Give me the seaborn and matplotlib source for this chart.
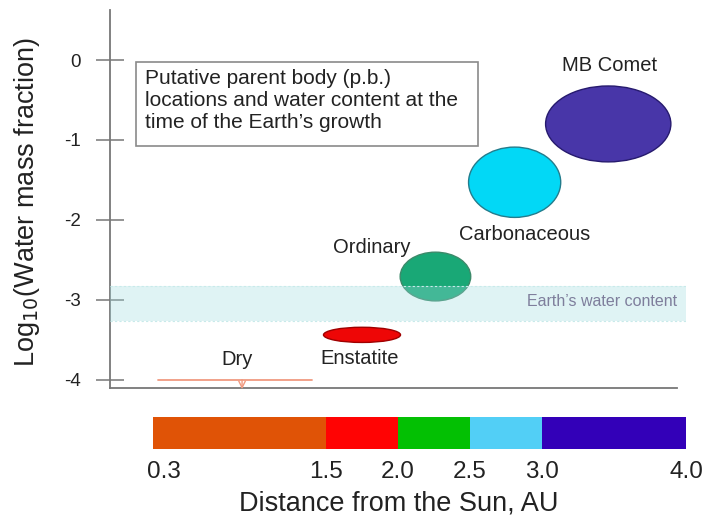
import numpy as np
import seaborn as sns
import matplotlib.pyplot as plt
from matplotlib.patches import Ellipse, Rectangle
from matplotlib.transforms import ScaledTranslation

# parent bodies: distance (AU) and log10 water mass fraction, with spread
bodies = ["Enstatite", "Ordinary", "Carbonaceous", "MB Comet"]
dist_au = [1.75, 2.26, 2.81, 3.46]
log_water = [-3.44, -2.71, -1.53, -0.80]
dist_spread = [0.535, 0.49, 0.64, 0.87]
water_spread = [0.19, 0.61, 0.88, 0.95]
body_fill = ["#EE0606", "#19A876", "#02D8F6", "#4836A8"]
body_edge = ["#A00000", "#3C8A6A", "#237C8C", "#261A6E"]

# Earth's water content band, dry region
earth_water = [-3.27, -2.83]
dry_au = [0.333, 1.40]
dry_level = -4

# distance zones for the bottom bar
zone_edges = [0.3, 1.5, 2.0, 2.5, 3.0, 4.0]
zone_colors = ["#E05306", "#FF0303", "#03C003", "#52CFF6", "#3300B8"]
yticks = [0, -1, -2, -3, -4]

sns.set_theme(style="white")
plt.rcParams['font.family'] = ['Liberation Sans', 'DejaVu Sans']

fig = plt.figure(figsize=(7.03, 5.21), dpi=100)
ax = fig.add_axes([0.1565, 0.2553, 0.8193, 0.7255])
cax = fig.add_axes([0.2176, 0.1382, 0.7582, 0.0614])

# ellipses
for i, name in enumerate(bodies):
    e = Ellipse((dist_au[i], log_water[i]), dist_spread[i], water_spread[i],
                facecolor=body_fill[i], edgecolor=body_edge[i], lw=1, zorder=2)
    ax.add_patch(e)

# Earth's water band (over the ellipses, semi-transparent)
ax.axhspan(earth_water[0], earth_water[1], color="#9DDCDF", alpha=0.32, lw=0, zorder=3)
ax.axhline(earth_water[0], color="#C8EAEA", lw=0.8, ls=(0, (2, 2)), zorder=3)
ax.axhline(earth_water[1], color="#C8EAEA", lw=0.8, ls=(0, (2, 2)), zorder=3)
ax.text(3.94, -3.02, "Earth\u2019s water content", ha="right", va="center",
        fontsize=11.5, color="#7E7E9C", zorder=4)

# dry line and arrow
ax.plot(dry_au, [dry_level, dry_level], color="#F09A80", lw=1.3, zorder=2)
ax.annotate("", xy=(0.917, dry_level - 0.12), xytext=(0.917, dry_level),
            annotation_clip=False,
            arrowprops=dict(arrowstyle="->", color="#F09A80", lw=1, shrinkA=0, shrinkB=0))
ax.text(0.88, -3.75, "Dry", ha="center", va="center", fontsize=14.5, color="#222222")

# body labels
ax.text(3.47, -0.063, "MB Comet", ha="center", va="center", fontsize=14.5, color="#222222")
ax.text(2.88, -2.19, "Carbonaceous", ha="center", va="center", fontsize=14.5, color="#222222")
ax.text(1.82, -2.35, "Ordinary", ha="center", va="center", fontsize=14.5, color="#222222")
ax.text(1.73, -3.74, "Enstatite", ha="center", va="center", fontsize=14.5, color="#222222")

# caption box
ax.add_patch(Rectangle((0.0451, 0.6402), 0.5939, 0.2222, transform=ax.transAxes,
                       fc="white", ec="#8A8A8A", lw=1.2, zorder=4))
ax.text(0.0608, 0.843, "Putative parent body (p.b.)\nlocations and water content at the\ntime of the Earth\u2019s growth",
        transform=ax.transAxes, ha="left", va="top", fontsize=15, color="#222222",
        linespacing=1.2, zorder=5)

ax.set_xlim(0, 4.0)
ax.set_ylim(-4.105, 0.626)
ax.set_xticks([])
ax.set_yticks(yticks)
ax.set_yticklabels([str(t) for t in yticks])
ax.tick_params(axis="y", direction="inout", length=20, width=1.1, color="#777777",
               pad=11, labelsize=13.5, labelcolor="#222222", left=True)
for s in ["top", "right"]:
    ax.spines[s].set_visible(False)
ax.spines["left"].set_color("#777777")
ax.spines["bottom"].set_color("#777777")
ax.spines["left"].set_linewidth(1.3)
ax.spines["bottom"].set_linewidth(1.3)
ax.spines["bottom"].set_bounds(0, 3.94)
ax.set_ylabel("Log$_{10}$(Water mass fraction)", fontsize=19.5, color="#222222")
ax.yaxis.set_label_coords(-0.118, 0.493)
ax.patch.set_alpha(0)

# distance colour bar
edges = np.array(zone_edges)
cax.barh(0, np.diff(edges), left=edges[:-1], height=1, color=zone_colors, lw=0)
cax.set_xlim(zone_edges[0], zone_edges[-1])
cax.set_ylim(-0.5, 0.5)
cax.set_yticks([])
cax.set_xticks(zone_edges)
cax.set_xticklabels([f"{v:.1f}" for v in zone_edges])
cax.tick_params(axis="x", length=0, pad=9, labelsize=17.5, labelcolor="#222222")
labels = cax.get_xticklabels()
labels[0].set_transform(labels[0].get_transform() + ScaledTranslation(0.11, 0, fig.dpi_scale_trans))
for s in cax.spines.values():
    s.set_visible(False)
cax.set_xlabel("Distance from the Sun, AU", fontsize=19.5, color="#222222")
cax.xaxis.set_label_coords(0.4615, -1.3)

fig.savefig("out.png", dpi=100)
